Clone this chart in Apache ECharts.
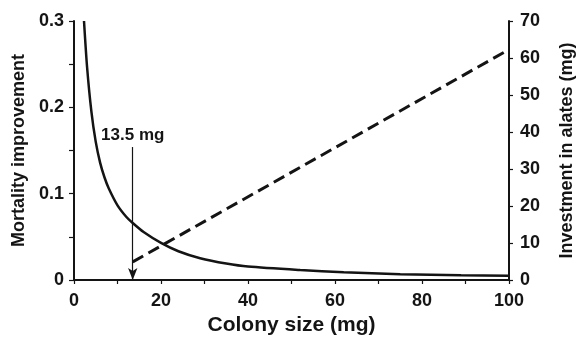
<!DOCTYPE html>
<html>
<head>
<meta charset="utf-8">
<script src="https://cdn.jsdelivr.net/npm/echarts@6/dist/echarts.min.js"></script>
<style>html,body{margin:0;padding:0;background:#fff;}#c{width:579px;height:339px;}</style>
</head>
<body>
<div id="c"></div>
<script>
// Mortality improvement curve (left axis)
var mortX = [2.3, 3, 4, 5, 6, 7, 8, 10, 12, 13.5, 16, 20, 24, 29, 35, 40, 52, 62, 75, 89, 100];
var mortY = [0.300, 0.247, 0.195, 0.160, 0.136, 0.119, 0.106, 0.0865, 0.0733, 0.066, 0.0556, 0.043, 0.0333, 0.0252, 0.019, 0.0155, 0.0115, 0.0089, 0.0067, 0.0055, 0.005];
// Investment in alates (right axis), dashed line
var investX = [13.5, 100];
var investY = [4.9, 62.3];
// Annotation
var markX = 13.5;
var markTop = 0.154;
var markLabel = '13.5 mg';

var font = '"Liberation Sans", Arial, Helvetica, sans-serif';
var ink = '#141414';

function pairs(xs, ys){ return xs.map(function(x,i){ return [x, ys[i]]; }); }

var chart = echarts.init(document.getElementById('c'), null, {renderer:'canvas'});
chart.setOption({
  backgroundColor: '#ffffff',
  animation: false,
  grid: {left: 74, right: 70, top: 21, bottom: 59, containLabel: false, outerBoundsMode: 'none'},
  xAxis: {
    type: 'value', min: 0, max: 100, interval: 10,
    name: 'Colony size (mg)', nameLocation: 'middle', nameGap: 35,
    nameTextStyle: {fontFamily: font, fontWeight: 'bold', fontSize: 21, color: ink},
    axisLine: {show: true, onZero: false, lineStyle: {color: ink, width: 2}},
    axisTick: {show: true, inside: false, length: 4, lineStyle: {color: ink, width: 1.2}},
    axisLabel: {fontFamily: font, fontWeight: 'bold', fontSize: 18, color: ink, margin: 12,
      formatter: function(v){ return (Math.round(v) % 20 === 0) ? String(Math.round(v)) : ''; }},
    splitLine: {show: false}
  },
  yAxis: [{
    type: 'value', min: 0, max: 0.3, interval: 0.05, position: 'left',
    name: 'Mortality improvement', nameLocation: 'middle', nameGap: 41, nameRotate: 90,
    nameTextStyle: {fontFamily: font, fontWeight: 'bold', fontSize: 18, color: ink},
    axisLine: {show: true, lineStyle: {color: ink, width: 2}},
    axisTick: {show: true, inside: false, length: 5, lineStyle: {color: ink, width: 1.2}},
    axisLabel: {fontFamily: font, fontWeight: 'bold', fontSize: 18, color: ink, margin: 10,
      formatter: function(v){ var k = Math.round(v*100); if (k % 10 !== 0) return ''; return k === 0 ? '0' : (k/100).toFixed(1); }},
    splitLine: {show: false}
  }, {
    type: 'value', min: 0, max: 70, interval: 10, position: 'right',
    name: 'Investment in alates (mg)', nameLocation: 'middle', nameGap: 49, nameRotate: 90,
    nameTextStyle: {fontFamily: font, fontWeight: 'bold', fontSize: 18, color: ink},
    axisLine: {show: true, lineStyle: {color: ink, width: 2}},
    axisTick: {show: true, inside: false, length: 4, lineStyle: {color: ink, width: 1.2}},
    axisLabel: {fontFamily: font, fontWeight: 'bold', fontSize: 18, color: ink, margin: 11},
    splitLine: {show: false}
  }],
  series: [{
    type: 'line', yAxisIndex: 0, data: pairs(mortX, mortY), smooth: 0.25,
    showSymbol: false, symbol: 'none', clip: true,
    lineStyle: {color: ink, width: 2.5},
    markLine: {
      silent: true, symbol: ['none', 'arrow'], symbolSize: [7, 12], precision: 1,
      lineStyle: {color: ink, width: 1.2, type: 'solid'},
      label: {show: true, position: 'start', formatter: markLabel, fontFamily: font, fontWeight: 'bold', fontSize: 17, color: ink, distance: 3},
      data: [[{coord: [markX, markTop]}, {coord: [markX, 0]}]]
    }
  }, {
    type: 'line', yAxisIndex: 1, data: pairs(investX, investY),
    showSymbol: false, symbol: 'none',
    lineStyle: {color: ink, width: 3, type: [12, 6]}
  }]
});
</script>
</body>
</html>
